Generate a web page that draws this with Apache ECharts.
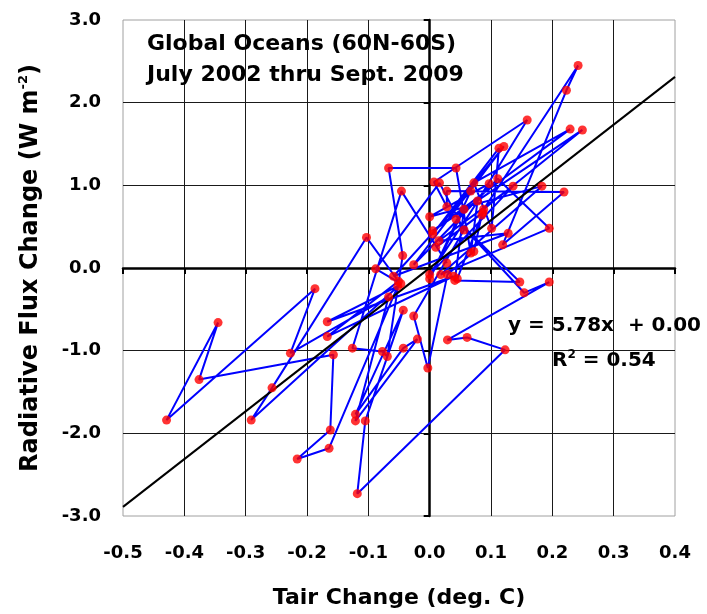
<!DOCTYPE html>
<html>
<head>
<meta charset="utf-8">
<script src="https://cdn.jsdelivr.net/npm/echarts@6/dist/echarts.min.js"></script>
<style>
html,body{margin:0;padding:0;background:#ffffff;}
#chart{width:707px;height:614px;}
</style>
</head>
<body>
<div id="chart"></div>
<script>
// Monthly anomalies, July 2002 - Sept. 2009 (in sequence)
const tairChange = [
  0.028, -0.046, -0.126, -0.077, -0.069, -0.044, -0.067, 0.043, 0.067, 0.078,
  0.159, 0.007, 0.028, 0.028, 0.219, 0.119, 0.223, 0.242, 0.088, 0.249,
  0.005, 0.229, 0.072, 0.101, 0.113, 0.005, 0.121, -0.026, 0.111, 0.195,
  0.018, 0.183, 0.000, 0.097, 0.000, 0.136, 0.015, 0.128, -0.059, 0.067,
  0.000, 0.056, 0.041, 0.147, 0.043, 0.154, 0.195, 0.029, 0.061, 0.123,
  -0.118, -0.105, -0.043, -0.121, -0.043, -0.020, -0.121, -0.067, -0.227, -0.187,
  -0.429, -0.345, -0.376, -0.157, -0.162, -0.216, -0.164, -0.052, -0.167, 0.039,
  -0.167, -0.051, -0.103, -0.257, -0.291, -0.047, -0.088, 0.016, 0.056, -0.026,
  -0.003, 0.029, 0.072, 0.085, 0.045, 0.087, 0.010
];
const fluxChange = [
  0.06, 0.93, -0.97, -1.01, -1.07, 0.15, 1.21, 1.21, 0.18, 0.81,
  1.79, 1.04, 0.74, 0.93, 0.92, 0.28, 2.15, 2.45, 0.71, 1.67,
  0.45, 1.68, 1.03, 0.48, 1.45, 0.41, 1.47, 0.04, 1.08, 0.48,
  -0.08, 0.99, 0.62, 1.02, -0.08, 0.99, 0.33, 0.42, -0.10, 0.93,
  -0.13, 0.71, -0.15, -0.17, 0.59, -0.30, -0.17, -0.87, -0.84, -0.99,
  -2.73, -1.85, -0.51, -1.77, -0.97, -0.86, -1.85, -0.35, -1.03, -0.25,
  -1.84, -0.66, -1.35, -1.05, -1.96, -2.31, -2.18, -0.22, -0.65, -0.10,
  -0.83, -0.16, 0.37, -1.45, -1.84, -0.19, -0.01, 1.03, 0.46, -0.58,
  -1.21, -0.08, 0.20, 0.64, -0.13, 0.67, 0.25
];
const xTickLabels = ['-0.5','-0.4','-0.3','-0.2','-0.1','0.0','0.1','0.2','0.3','0.4'];
const yTickLabels = ['-3.0','-2.0','-1.0','0.0','1.0','2.0','3.0'];
const fitSlope = 5.78;
const fitIntercept = 0.00;
const fitR2 = 0.54;
const titleLines = ['Global Oceans (60N-60S)', 'July 2002 thru Sept. 2009'];
const xTitle = 'Tair Change (deg. C)';

const FONT = '"DejaVu Sans", "Liberation Sans", Arial, sans-serif';
const xMin = Number(xTickLabels[0]), xMax = Number(xTickLabels[xTickLabels.length - 1]);
const yMin = Number(yTickLabels[0]), yMax = Number(yTickLabels[yTickLabels.length - 1]);

const points = tairChange.map((x, i) => [x, fluxChange[i]]);
const fitLine = [[xMin, fitSlope * xMin + fitIntercept], [xMax, fitSlope * xMax + fitIntercept]];

const chart = echarts.init(document.getElementById('chart'), null, {renderer: 'canvas'});
const labelStyle = {color: '#000', fontFamily: FONT, fontWeight: 'bold', fontSize: 18};

chart.setOption({
  animation: false,
  backgroundColor: '#ffffff',
  grid: {left: 123, top: 20, right: 32, bottom: 98, show: true, borderColor: '#a0a0a0', borderWidth: 1, containLabel: false},
  xAxis: [
    {
      type: 'value', min: xMin, max: xMax, interval: 0.1, position: 'bottom',
      axisLine: {show: false, onZero: false},
      axisTick: {show: false},
      axisLabel: Object.assign({margin: 28, formatter: v => v.toFixed(1)}, labelStyle),
      splitLine: {show: true, showMinLine: false, showMaxLine: false, lineStyle: {color: '#1a1a1a', width: 1}},
      name: xTitle, nameLocation: 'middle', nameGap: 71,
      nameTextStyle: {color: '#000', fontFamily: FONT, fontWeight: 'bold', fontSize: 22}
    },
    {
      type: 'value', min: xMin, max: xMax, interval: 0.1, position: 'bottom',
      axisLine: {show: true, onZero: true, lineStyle: {color: '#000', width: 2.5}},
      axisTick: {show: true, length: 6, lineStyle: {color: '#000', width: 2}},
      axisLabel: {show: false},
      splitLine: {show: false}
    }
  ],
  yAxis: [
    {
      type: 'value', min: yMin, max: yMax, interval: 1, position: 'left',
      axisLine: {show: false, onZero: false},
      axisTick: {show: false},
      axisLabel: Object.assign({margin: 22, formatter: v => v.toFixed(1)}, labelStyle),
      splitLine: {show: true, showMinLine: false, showMaxLine: false, lineStyle: {color: '#1a1a1a', width: 1}},
      name: '{a|Radiative Flux Change (W m}{s|-2}{a|)}', nameLocation: 'middle', nameGap: 78,
      nameTextStyle: {
        color: '#000', fontFamily: FONT, fontWeight: 'bold', fontSize: 24,
        rich: {
          a: {color: '#000', fontFamily: FONT, fontWeight: 'bold', fontSize: 24, lineHeight: 28},
          s: {color: '#000', fontFamily: FONT, fontWeight: 'bold', fontSize: 13, lineHeight: 13, verticalAlign: 'top'}
        }
      }
    },
    {
      type: 'value', min: yMin, max: yMax, interval: 1, position: 'left',
      axisLine: {show: true, onZero: true, lineStyle: {color: '#000', width: 2.5}},
      axisTick: {show: true, length: 6, lineStyle: {color: '#000', width: 2}},
      axisLabel: {show: false},
      splitLine: {show: false}
    }
  ],
  series: [
    {
      name: 'monthly path', type: 'line', data: points, xAxisIndex: 0, yAxisIndex: 0,
      showSymbol: false, symbol: 'none', lineStyle: {color: '#0000ff', width: 2}, z: 3
    },
    {
      name: 'fit', type: 'line', data: fitLine, xAxisIndex: 0, yAxisIndex: 0,
      showSymbol: false, symbol: 'none', lineStyle: {color: '#000', width: 2}, z: 4
    },
    {
      name: 'months', type: 'scatter', data: points, xAxisIndex: 0, yAxisIndex: 0,
      symbol: 'circle', symbolSize: 9, itemStyle: {color: '#ff0000'}, z: 5
    }
  ],
  graphic: [
    {type: 'text', left: 147, top: 29, z: 10,
     style: {text: titleLines.join('\n'), font: 'bold 22px ' + FONT, fill: '#000', lineHeight: 31}},
    {type: 'text', left: 508, top: 316, z: 10,
     style: {text: 'y = ' + fitSlope.toFixed(2) + 'x  + ' + fitIntercept.toFixed(2), font: 'bold 20px ' + FONT, fill: '#000'}},
    {type: 'text', left: 552, top: 349, z: 10,
     style: {
       text: '{r|R}{s|2}{r| = ' + fitR2.toFixed(2) + '}',
       rich: {
         r: {font: 'bold 20px ' + FONT, fill: '#000', lineHeight: 24},
         s: {font: 'bold 12px ' + FONT, fill: '#000', lineHeight: 12, verticalAlign: 'top'}
       }
     }}
  ]
});
</script>
</body>
</html>
